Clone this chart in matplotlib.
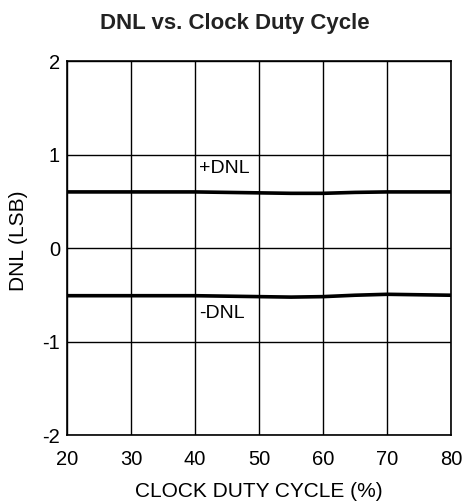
import numpy as np
import matplotlib.pyplot as plt

plt.rcParams['font.family'] = ['Liberation Sans', 'DejaVu Sans']
plt.rcParams['axes.unicode_minus'] = False

duty = [20, 30, 40, 50, 55, 60, 65, 70, 75, 80]
pos_dnl = [0.60, 0.60, 0.60, 0.59, 0.585, 0.585, 0.595, 0.60, 0.60, 0.60]
neg_dnl = [-0.51, -0.51, -0.51, -0.52, -0.525, -0.52, -0.505, -0.495, -0.50, -0.505]

x_ticks = [20, 30, 40, 50, 60, 70, 80]
y_ticks = [-2, -1, 0, 1, 2]

fig = plt.figure(figsize=(4.64, 5.04), dpi=100)
ax = fig.add_axes([0.1444, 0.1369, 0.8276, 0.742])

ax.plot(duty, pos_dnl, color='black', lw=2.6)
ax.plot(duty, neg_dnl, color='black', lw=2.6)

ax.text(40.6, 0.76, '+DNL', fontsize=14, va='bottom', ha='left')
ax.text(40.6, -0.61, '-DNL', fontsize=14, va='top', ha='left')

ax.set_xlim(20, 80)
ax.set_ylim(-2, 2)
ax.set_xticks(x_ticks)
ax.set_yticks(y_ticks)
ax.grid(True, color='black', lw=1.0)
ax.tick_params(length=0, labelsize=14.5)
ax.tick_params(axis='x', pad=11)
ax.tick_params(axis='y', pad=5)
for s in ax.spines.values():
    s.set_linewidth(1.2)

ax.set_xlabel('CLOCK DUTY CYCLE (%)', fontsize=15, labelpad=9)
ax.set_ylabel('DNL (LSB)', fontsize=15)
ax.yaxis.set_label_coords(-0.102, 0.52)
fig.suptitle('DNL vs. Clock Duty Cycle', fontsize=16, fontweight='bold',
             x=0.506, y=0.975, color='#222222')

fig.savefig('out.png', dpi=100)
